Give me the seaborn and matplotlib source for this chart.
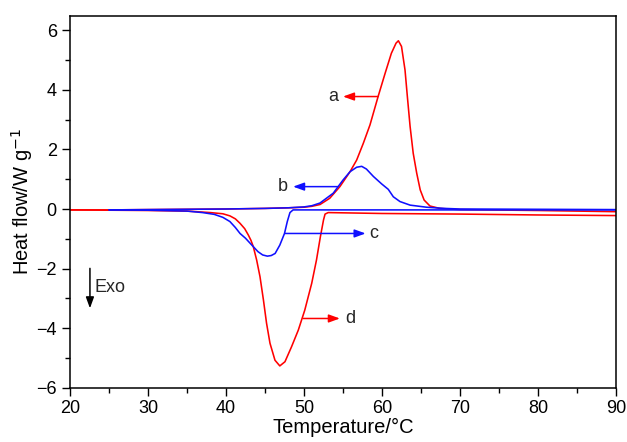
import matplotlib
matplotlib.use("Agg")
import matplotlib.pyplot as plt
from matplotlib.ticker import MultipleLocator
import seaborn as sns
import pandas as pd

# Curve a: heating (red)
a_x = [20, 25, 30, 35, 40, 45, 48, 50, 51, 52.05, 53.3, 54.6, 55.9, 56.75, 57.6, 58.46, 59.5,
       60.4, 61.2, 61.8, 62.1, 62.5, 62.95, 63.25, 63.6, 64.0, 64.45, 64.9, 65.4, 66.15,
       67.4, 70, 80, 90]
a_y = [-0.03, -0.03, -0.02, -0.01, 0.0, 0.02, 0.04, 0.06, 0.09, 0.15, 0.36, 0.75, 1.25, 1.64, 2.2, 2.82, 3.77,
       4.55, 5.22, 5.56, 5.64, 5.45, 4.66, 3.77, 2.77, 1.87, 1.2, 0.64, 0.3, 0.1,
       0.02, -0.02, -0.05, -0.09]

# Curve b: heating (blue)
b_x = [25, 30, 35, 40, 45, 48, 50, 51, 52.05, 53.75, 55.0, 55.9, 56.75, 57.4, 58.0, 58.9, 59.96,
       60.8, 61.45, 62.3, 63.6, 65.7, 68, 70, 80, 90]
b_y = [-0.03, -0.02, -0.01, 0.0, 0.02, 0.04, 0.07, 0.11, 0.2, 0.53, 0.97, 1.25, 1.4, 1.43, 1.34, 1.09, 0.84,
       0.66, 0.41, 0.25, 0.13, 0.06, 0.02, 0.0, -0.01, -0.02]

# Curve c: cooling (blue)
c_x = [25, 30, 35, 37, 38.5, 39.6, 40.5, 41.2, 41.8, 42.5, 43.1, 44.1, 44.7, 45.3, 45.8, 46.3,
       46.9, 47.5, 47.86, 48.2, 48.6, 50, 60, 70, 80, 90]
c_y = [-0.03, -0.04, -0.07, -0.12, -0.18, -0.28, -0.42, -0.62, -0.82, -0.98, -1.15, -1.43, -1.54,
       -1.58, -1.56, -1.49, -1.21, -0.82, -0.42, -0.12, -0.03, -0.03, -0.03, -0.03, -0.03, -0.03]

# Curve d: cooling (red)
d_x = [20, 25, 30, 35, 38, 39.6, 40.5, 41.2, 41.8, 42.4, 42.86, 43.2, 43.5, 43.93, 44.36, 44.8,
       45.2, 45.64, 46.28, 46.9, 47.56, 48.4, 49.27, 50.1, 50.99, 51.6, 52.1, 52.5, 52.7, 53.1,
       60, 70, 80, 90]
d_y = [-0.03, -0.04, -0.05, -0.07, -0.12, -0.16, -0.23, -0.33, -0.48, -0.66, -0.87, -1.05, -1.26,
       -1.71, -2.27, -3.05, -3.83, -4.5, -5.07, -5.26, -5.12, -4.62, -4.06, -3.39, -2.49, -1.71,
       -0.93, -0.37, -0.17, -0.12, -0.15, -0.17, -0.2, -0.22]

labels = ["a", "b", "c", "d"]

sns.set_theme(style="ticks")
plt.rcParams["font.family"] = ["Liberation Sans", "DejaVu Sans"]

fig = plt.figure(figsize=(6.27, 4.42), dpi=100)
ax = fig.add_axes([0.1116, 0.1222, 0.8709, 0.8416])

RED = "#ff0000"
BLUE = "#1010ff"
for xs, ys, col in [(a_x, a_y, RED), (d_x, d_y, RED), (b_x, b_y, BLUE), (c_x, c_y, BLUE)]:
    df = pd.DataFrame({"x": xs, "y": ys})
    sns.lineplot(data=df, x="x", y="y", ax=ax, color=col, lw=1.15, sort=False, estimator=None)

ax.set_xlim(20, 90)
ax.set_ylim(-6, 6.47)
ax.xaxis.set_major_locator(MultipleLocator(10))
ax.xaxis.set_minor_locator(MultipleLocator(5))
ax.yaxis.set_major_locator(MultipleLocator(2))
ax.yaxis.set_minor_locator(MultipleLocator(1))
ax.tick_params(which="major", direction="out", length=6, width=1, labelsize=13, color="black",
               labelcolor="black", top=False, right=False)
ax.tick_params(axis="x", which="major", pad=2.5)
ax.tick_params(which="minor", direction="out", length=3.5, width=1, color="black",
               top=False, right=False)
for s in ax.spines.values():
    s.set_color("black")
    s.set_linewidth(1.1)
ax.set_xlabel("Temperature/°C", fontsize=14.5, color="black", labelpad=1)
ax.set_ylabel("Heat flow/W g$^{-1}$", fontsize=14.5, color="black", labelpad=1)

def arrow(x0, y0, x1, y1, col):
    ax.annotate("", xy=(x1, y1), xytext=(x0, y0),
                arrowprops=dict(arrowstyle="-|>,head_length=0.55,head_width=0.2",
                                color=col, lw=1.1, shrinkA=0, shrinkB=0))

arrow(59.5, 3.77, 55.0, 3.77, RED)
ax.text(53.7, 3.77, labels[0], ha="center", va="center", fontsize=13)
arrow(54.4, 0.75, 48.6, 0.75, BLUE)
ax.text(47.3, 0.75, labels[1], ha="center", va="center", fontsize=13)
arrow(47.56, -0.82, 57.9, -0.82, BLUE)
ax.text(58.9, -0.82, labels[2], ha="center", va="center", fontsize=13)
arrow(49.9, -3.67, 54.6, -3.67, RED)
ax.text(56.0, -3.67, labels[3], ha="center", va="center", fontsize=13)
arrow(22.56, -1.99, 22.56, -3.33, "black")
ax.text(23.1, -2.62, "Exo", ha="left", va="center", fontsize=13)

fig.savefig("out.png", dpi=100)
